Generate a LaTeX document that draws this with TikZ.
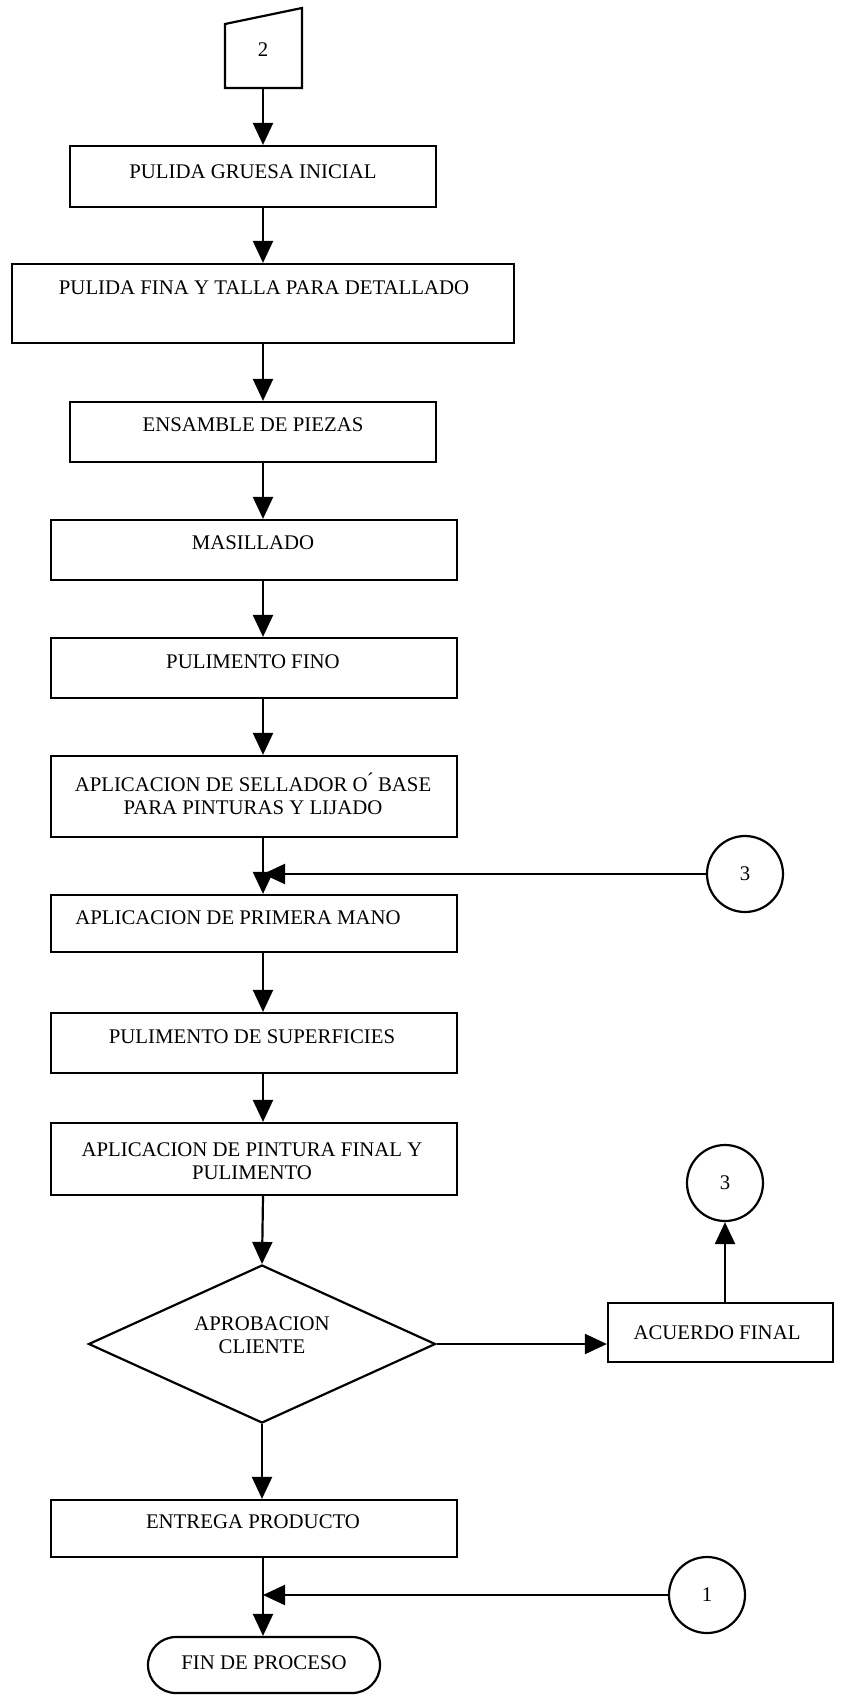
\documentclass[tikz,border=0pt]{standalone}
\usepackage{fontspec}
\setmainfont{Liberation Serif}
\usetikzlibrary{shapes.geometric,arrows.meta,fit}

\begin{document}
\begin{tikzpicture}[x=0.5pt,y=-0.5pt,line width=1.1pt,
        box/.style={draw,rectangle,inner sep=0pt},
        circ/.style={draw,circle,minimum size=38pt,inner sep=0pt,font=\fontsize{10.4}{11.5}\selectfont},
        txt/.style={font=\fontsize{10.4}{11.5}\selectfont,align=center,inner sep=0pt},
        arr/.style={-{Triangle[length=11pt,width=10pt]}}]

        \useasboundingbox (0,0) rectangle (845,1697);
        \coordinate (ax) at (263,0);

        \draw (225,24) -- (302,8) -- (302,88) -- (225,88) -- cycle;
        \coordinate (c2) at (263,88);
        \node[txt] (t2) at (263,50) {2};

        \node[box,fit={(70,146)(436,207)}] (b1) {};
        \node[box,fit={(12,264)(514,343)}] (b2) {};
        \node[box,fit={(70,402)(436,462)}] (b3) {};
        \node[box,fit={(51,520)(457,580)}] (b4) {};
        \node[box,fit={(51,638)(457,698)}] (b5) {};
        \node[box,fit={(51,756)(457,837)}] (b6) {};
        \node[box,fit={(51,895)(457,952)}] (b7) {};
        \node[box,fit={(51,1013)(457,1073)}] (b8) {};
        \node[box,fit={(51,1123)(457,1195)}] (b9) {};
        \node[draw,diamond,inner sep=0pt,minimum width=173.5pt,minimum height=79pt] (dia) at (262,1344) {};
        \node[box,fit={(608,1303)(833,1362)}] (ac) {};
        \node[box,fit={(51,1500)(457,1557)}] (b10) {};
        \node[box,rounded corners=14pt,fit={(148,1637)(380,1693)}] (fin) {};

        \node[circ] (c3a) at (745,874) {3};
        \node[circ] (c3b) at (725,1183) {3};
        \node[circ] (c1) at (707,1595) {1};

        \node[txt] (tb1) at (253,172) {PULIDA GRUESA INICIAL};
        \node[txt] (tb2) at (264,288) {PULIDA FINA Y TALLA PARA DETALLADO};
        \node[txt] (tb3) at (253,425) {ENSAMBLE DE PIEZAS};
        \node[txt] (tb4) at (253,543) {MASILLADO};
        \node[txt] (tb5) at (253,662) {PULIMENTO FINO};
        \node[txt] (tb6) at (253,793.5) {APLICACION DE SELLADOR O\'{} BASE\\PARA PINTURAS Y LIJADO};
        \node[txt] (tb7) at (238,918) {APLICACION DE PRIMERA MANO};
        \node[txt] (tb8) at (252,1037) {PULIMENTO DE SUPERFICIES};
        \node[txt] (tb9) at (252,1161.5) {APLICACION DE PINTURA FINAL Y\\PULIMENTO};
        \node[txt] (tdia) at (262,1335.5) {APROBACION\\CLIENTE};
        \node[txt] (tac) at (717,1333) {ACUERDO FINAL};
        \node[txt] (tb10) at (253,1522) {ENTREGA PRODUCTO};
        \node[txt] (tfin) at (264,1663) {FIN DE PROCESO};

        \draw[arr] (c2) -- (b1.north -| ax);
        \draw[arr] (b1.south -| ax) -- (b2.north -| ax);
        \draw[arr] (b2.south -| ax) -- (b3.north -| ax);
        \draw[arr] (b3.south -| ax) -- (b4.north -| ax);
        \draw[arr] (b4.south -| ax) -- (b5.north -| ax);
        \draw[arr] (b5.south -| ax) -- (b6.north -| ax);
        \draw[arr] (b6.south -| ax) -- (b7.north -| ax);
        \draw[arr] (c3a.west) -- (c3a.west -| ax);
        \draw[arr] (b7.south -| ax) -- (b8.north -| ax);
        \draw[arr] (b8.south -| ax) -- (b9.north -| ax);
        \draw[arr] (b9.south -| ax) -- (dia.north);
        \draw[arr] (dia.east) -- (dia.east -| ac.west);
        \draw[arr] (ac.north -| c3b) -- (c3b.south);
        \draw[arr] (dia.south) -- (b10.north -| dia);
        \draw[arr] (b10.south -| ax) -- (fin.north -| ax);
        \draw[arr] (c1.west) -- (c1.west -| ax);

\end{tikzpicture}
\end{document}
